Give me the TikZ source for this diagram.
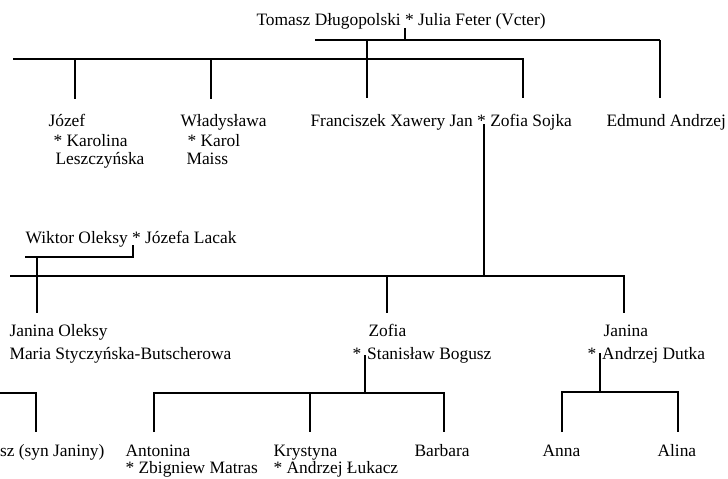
\documentclass[tikz,border=0pt]{standalone}
\usepackage{fontspec}
\setmainfont{Liberation Serif}

\begin{document}
\begin{tikzpicture}[x=1pt,y=-1pt,line width=1.1pt,
  person/.style={anchor=base west,inner sep=0pt,font=\fontsize{17.4}{20}\selectfont}]
  \useasboundingbox (0,0) rectangle (728,479);
  % first couple
  \node[person] (tomasz) at (256,25) {Tomasz Długopolski * Julia Feter (Vcter)};
  \coordinate (t0) at (405,28);
  \coordinate (t1) at (405,40);
  \coordinate (u0) at (315,40);
  \coordinate (u1) at (660,40);
  \coordinate (u2) at (660,98);
  \coordinate (f0) at (367,40);
  \coordinate (fx) at (367,59);
  \coordinate (f1) at (367,98);
  \coordinate (l0) at (13,59);
  \coordinate (l1) at (523,59);
  \coordinate (l2) at (523,98);
  \coordinate (j0) at (75,59);
  \coordinate (j1) at (75,99);
  \coordinate (w0) at (211,59);
  \coordinate (w1) at (211,99);
  % children
  \node[person] (jozef) at (48,126) {Józef};
  \node[person] (karolina) at (53,146) {* Karolina};
  \node[person] (leszcz) at (55,164) {Leszczyńska};
  \node[person] (wlad) at (180,126) {Władysława};
  \node[person] (karol) at (187,146) {* Karol};
  \node[person] (maiss) at (186,164) {Maiss};
  \node[person] (franc) at (310,126) {Franciszek Xawery Jan * Zofia Sojka};
  \node[person] (edmund) at (606,126) {Edmund Andrzej};
  \draw (t0)--(t1);
  \draw[line width=1.6pt] (u0)--(u1);
  \draw (u1)--(u2);
  \draw (f0)--(f1);
  \fill (fx) circle (1.8pt);
  \draw (l0)--(l1)--(l2);
  \draw (j0)--(j1);
  \draw (w0)--(w1);
  % second couple
  \node[person] (wiktor) at (25,243) {Wiktor Oleksy * Józefa Lacak};
  \coordinate (s0) at (484,124);
  \coordinate (s1) at (484,276);
  \coordinate (v0) at (25,257);
  \coordinate (v1) at (133,257);
  \coordinate (v2) at (133,245);
  \coordinate (o0) at (37,257);
  \coordinate (o1) at (37,313);
  \coordinate (m0) at (10,276);
  \coordinate (m1) at (624,276);
  \coordinate (m2) at (624,313);
  \coordinate (z0) at (387,276);
  \coordinate (z1) at (387,313);
  \draw (s0)--(s1);
  \draw (v0)--(v1)--(v2);
  \draw (o0)--(o1);
  \draw (m0)--(m1)--(m2);
  \draw (z0)--(z1);
  % grandchildren
  \node[person] (janinao) at (9,336) {Janina Oleksy};
  \node[person] (maria) at (9,359) {Maria Styczyńska-Butscherowa};
  \node[person] (zofia) at (368,336) {Zofia};
  \node[person] (bogusz) at (352,359) {*\kern6pt Stanisław Bogusz};
  \node[person] (janina) at (603,336) {Janina};
  \node[person] (dutka) at (587,359) {*\kern6pt Andrzej Dutka};
  \coordinate (b0) at (365,355);
  \coordinate (b1) at (365,393);
  \coordinate (c0) at (154,393);
  \coordinate (c1) at (444,393);
  \coordinate (c2) at (444,432);
  \coordinate (a1) at (154,432);
  \coordinate (k0) at (310,393);
  \coordinate (k1) at (310,432);
  \coordinate (d0) at (600,353);
  \coordinate (d1) at (600,392);
  \coordinate (e0) at (562,392);
  \coordinate (e1) at (678,392);
  \coordinate (e2) at (678,432);
  \coordinate (n1) at (562,432);
  \coordinate (r0) at (0,393);
  \coordinate (r1) at (36,393);
  \coordinate (r2) at (36,432);
  \draw (b0)--(b1);
  \draw (a1)--(c0)--(c1)--(c2);
  \draw (k0)--(k1);
  \draw (d0)--(d1);
  \draw (n1)--(e0)--(e1)--(e2);
  \draw (r0)--(r1)--(r2);
  % great-grandchildren
  \node[person,anchor=base east] (syn) at (105,456) {sz (syn Janiny)};
  \node[person] (antonina) at (125,456) {Antonina};
  \node[person] (matras) at (125,473) {* Zbigniew Matras};
  \node[person] (krystyna) at (273,456) {Krystyna};
  \node[person] (lukacz) at (273,473) {* Andrzej Łukacz};
  \node[person] (barbara) at (414,456) {Barbara};
  \node[person] (anna) at (542,456) {Anna};
  \node[person] (alina) at (657,456) {Alina};
\end{tikzpicture}
\end{document}
